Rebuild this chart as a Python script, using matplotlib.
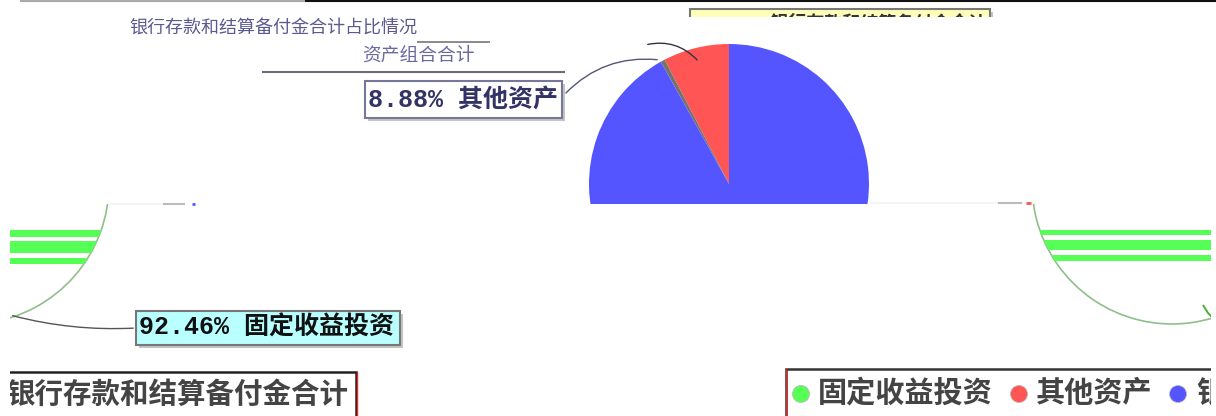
import matplotlib
matplotlib.use("Agg")
import matplotlib.pyplot as plt
from matplotlib.patches import Circle, Rectangle

plt.rcParams["font.family"] = ["Noto Sans CJK SC", "DejaVu Sans"]
LABEL_FONT = ["Liberation Mono", "Noto Sans CJK SC"]

W, H = 1216, 416

# data
categories = ["固定收益投资", "其他资产", "银行存款和结算备付金合计"]
middle_values = [7.6, 0.5, 91.9]
middle_colors = ["#ff5555", "#77736a", "#5555ff"]
side_values = [92.46, 7.54]
fixed_income_label = "92.46% 固定收益投资"
other_label = "8.88% 其他资产"
deposit_label = "92.46% 银行存款和结算备付金合计"
top_title = "银行存款和结算备付金合计占比情况"
top_subtitle = "资产组合合计"
legend_colors = ["#55ff55", "#ff5555", "#5555ff"]

RADIUS = 140
CUT_Y = 204


def py(y):
    return H - y


fig = plt.figure(figsize=(W / 100, H / 100), dpi=100)
ax = fig.add_axes([0, 0, 1, 1])


def clip_wedges(wedges, keep):
    # pie turns clipping off on its wedges
    for w in wedges:
        w.set_clip_on(True)
        w.set_clip_path(keep)


def draw_side_pie(cx, bands):
    wedges, _ = ax.pie(side_values, colors=["white", "white"], startangle=90, radius=RADIUS,
                       center=(cx, py(184)), wedgeprops={"edgecolor": "#8fbf8a", "linewidth": 1.2})
    clip_wedges(wedges, Rectangle((-300, 0), W + 600, py(CUT_Y), transform=ax.transData))
    circle = Circle((cx, py(184)), RADIUS, transform=ax.transData)
    for top, bottom in bands:
        b = ax.barh(py((top + bottom) / 2), W, height=bottom - top, left=0, color="#55ff55", zorder=3)
        for patch in b:
            patch.set_clip_path(circle)


# middle pie, cut off under y=204
wedges, _ = ax.pie(middle_values, colors=middle_colors, startangle=90, radius=RADIUS,
                   center=(729, py(184)))
clip_wedges(wedges, Rectangle((0, py(CUT_Y)), W, H, transform=ax.transData))

draw_side_pie(-31, [(230, 237), (241, 253), (258, 264)])
draw_side_pie(1172, [(230, 235), (240, 250), (255, 261)])

ax.set_xlim(0, W)
ax.set_ylim(0, H)


def box(x0, y0, x1, y1, face, edge, lw=1.5, shadow=True):
    if shadow:
        ax.add_patch(Rectangle((x0 + 3, py(y1 + 3)), x1 - x0, y1 - y0, fc="#c4c4c4", ec="none", zorder=5))
    ax.add_patch(Rectangle((x0, py(y1)), x1 - x0, y1 - y0, fc=face, ec=edge, lw=lw, zorder=6))


def line(xs, ys, color="#555555", lw=1.0, z=4):
    ax.plot(xs, [py(y) for y in ys], color=color, lw=lw, zorder=z, solid_capstyle="butt")


# labels
box(136, 311, 400, 345, "#b9ffff", "#777777")
ax.text(139, py(328), fixed_income_label, family=LABEL_FONT, weight="bold", fontsize=18,
        color="#111111", va="center", zorder=7)
box(365, 81, 562, 118, "white", "#77779a")
ax.text(368, py(100), other_label, family=LABEL_FONT, weight="bold", fontsize=18,
        color="#333366", va="center", zorder=7)
box(690, 9, 990, 40, "#ffffb9", "#777777")
ax.text(695, py(24), deposit_label, family=LABEL_FONT, weight="bold", fontsize=13,
        color="#333333", va="center", zorder=7)
ax.add_patch(Rectangle((680, py(44)), 330, 27, fc="white", ec="none", zorder=8))

# garbled upper labels
ax.text(417, py(29), top_title, ha="right", va="center", fontsize=13, color="#5a5a90", zorder=7)
ax.text(475, py(55), top_subtitle, ha="right", va="center", fontsize=13.5, color="#6a6aa0", zorder=7)
line([417, 490], [42, 42], "#777777", 1.2)
line([262, 565], [72, 72], "#6a6a7a", 1.5)

# leader lines
ax.annotate("", xy=(660, py(60)), xytext=(564, py(95)), zorder=4,
            arrowprops={"arrowstyle": "-", "color": "#555577", "lw": 1, "connectionstyle": "arc3,rad=-0.25"})
ax.annotate("", xy=(699, py(62)), xytext=(645, py(45)), zorder=4,
            arrowprops={"arrowstyle": "-", "color": "#333344", "lw": 1, "connectionstyle": "arc3,rad=-0.3"})
ax.annotate("", xy=(10, py(315)), xytext=(136, py(328)), zorder=4,
            arrowprops={"arrowstyle": "-", "color": "#555555", "lw": 1, "connectionstyle": "arc3,rad=-0.08"})
line([1203, 1208, 1212], [305, 313, 317], "#4caf3a", 1.4)

# faint stubs along the cut
line([108, 185], [204, 204], "#f2f2f2", 1.2)
line([163, 185], [204, 204], "#bbbbbb", 1.5)
line([192, 195], [204, 204], "#5555ff", 2)
line([870, 1035], [203, 203], "#f2f2f2", 1.2)
line([998, 1022], [203, 203], "#bbbbbb", 1.5)
line([1026, 1031], [203, 203], "#ff5555", 2)

# bottom boxes
box(-20, 372, 356, 440, "white", "#222222", 1.8, shadow=False)
line([356.5, 356.5], [372, 416], "#ee2222", 1, 7)
ax.text(348, py(395), categories[2], ha="right", va="center", fontsize=20.5, weight="bold",
        color="#444444", zorder=7)

box(786, 369, 1240, 440, "white", "#333333", 1.8, shadow=False)
line([785.5, 785.5], [369, 416], "#ee2222", 1, 7)
for x, color in zip([801, 1019, 1178], legend_colors):
    ax.add_patch(Circle((x, py(394)), 8.5, fc=color, ec="#bbbbbb", lw=0.6, zorder=7))
for x, name in zip([818, 1036, 1196], categories):
    ax.text(x, py(393), name, va="center", fontsize=21, weight="bold", color="#444444", zorder=7)

# picture is cropped at the sides, dark rule along the top
ax.add_patch(Rectangle((0, 0), 10, H, fc="white", ec="none", zorder=20))
ax.add_patch(Rectangle((1211, 0), 5, H, fc="white", ec="none", zorder=20))
line([20, 305], [0.8, 0.8], "#aaaaaa", 1.5, 21)
line([305, W], [0.8, 0.8], "#111111", 1.5, 21)

fig.savefig("out.png", dpi=100)
plt.close(fig)
